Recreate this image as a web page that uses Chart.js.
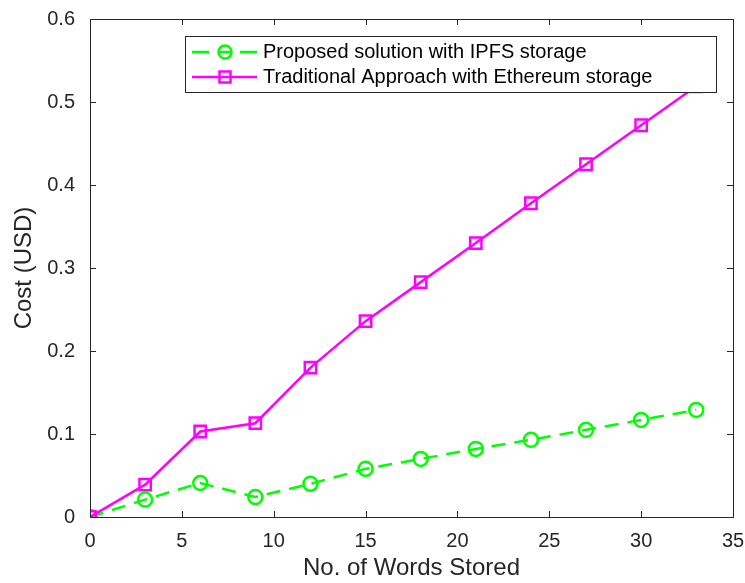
<!DOCTYPE html>
<html>
<head>
<meta charset="utf-8">
<script src="https://cdn.jsdelivr.net/npm/chart.js@4"></script>
<style>
  html, body { margin: 0; padding: 0; background: #fff; }
  #wrap { width: 745px; height: 583px; }
</style>
</head>
<body>
<div id="wrap"><canvas id="costChart"></canvas></div>
<script>
// words stored (x) and cost in USD for both approaches
const wordsStored = [0, 3, 6, 9, 12, 15, 18, 21, 24, 27, 30, 33];
const ipfsCost = [0, 0.021, 0.041, 0.024, 0.040, 0.058, 0.070, 0.082, 0.093, 0.105, 0.117, 0.129];
const ethereumCost = [0, 0.039, 0.103, 0.113, 0.180, 0.236, 0.283, 0.330, 0.378, 0.425, 0.472, 0.519];
const xTicks = [0, 5, 10, 15, 20, 25, 30, 35];
const yTicks = [0, 0.1, 0.2, 0.3, 0.4, 0.5, 0.6];

const seriesLabels = ['Proposed solution with IPFS storage', 'Traditional Approach with Ethereum storage'];
const axisColor = '#262626';
const fontFamily = '"Liberation Sans", Arial, sans-serif';

function toPoints(xs, ys) {
    return xs.map((x, i) => ({ x: x, y: ys[i] }));
}

// matlab-like box: inward ticks on all four sides
const boxPlugin = {
    id: 'matlabBox',
    afterDatasetsDraw(chart) {
        const { ctx, chartArea: a, scales } = chart;
        ctx.save();
        ctx.strokeStyle = axisColor;
        ctx.lineWidth = 1;
        ctx.strokeRect(a.left + 0.5, a.top + 0.5, a.right - a.left, a.bottom - a.top);
        const len = 6;
        ctx.beginPath();
        xTicks.forEach(t => {
            const px = Math.round(scales.x.getPixelForValue(t)) + 0.5;
            ctx.moveTo(px, a.bottom); ctx.lineTo(px, a.bottom - len);
            ctx.moveTo(px, a.top); ctx.lineTo(px, a.top + len);
        });
        yTicks.forEach(t => {
            const py = Math.round(scales.y.getPixelForValue(t)) + 0.5;
            ctx.moveTo(a.left, py); ctx.lineTo(a.left + len, py);
            ctx.moveTo(a.right, py); ctx.lineTo(a.right - len, py);
        });
        ctx.stroke();
        ctx.restore();
    },
    afterDraw(chart) {
        // legend box inside the axes, drawn over the data like matlab does
        const ctx = chart.ctx;
        const bx = 185, by = 36, bw = 531, bh = 56;
        ctx.save();
        ctx.fillStyle = '#fff';
        ctx.fillRect(bx, by, bw, bh);
        ctx.strokeStyle = axisColor;
        ctx.lineWidth = 1;
        ctx.strokeRect(bx + 0.5, by + 0.5, bw, bh);

        const rows = [by + 16, by + 41];
        const x0 = 192, x1 = 257, mx = 225;
        // row 1: green dashed with circle
        ctx.strokeStyle = '#00ff00';
        ctx.lineWidth = 2.5;
        ctx.beginPath();
        ctx.moveTo(x0, rows[0]); ctx.lineTo(x0 + 17, rows[0]);
        ctx.moveTo(x1 - 17, rows[0]); ctx.lineTo(x1, rows[0]);
        ctx.stroke();
        ctx.beginPath();
        ctx.arc(mx, rows[0], 6.5, 0, Math.PI * 2);
        ctx.stroke();
        ctx.beginPath();
        ctx.moveTo(mx - 6, rows[0]); ctx.lineTo(mx + 6, rows[0]);
        ctx.stroke();
        // row 2: magenta solid with square
        ctx.strokeStyle = '#ff00ff';
        ctx.lineWidth = 2.5;
        ctx.beginPath();
        ctx.moveTo(x0, rows[1]); ctx.lineTo(x1, rows[1]);
        ctx.stroke();
        ctx.strokeRect(mx - 5.5, rows[1] - 5.5, 11, 11);

        ctx.fillStyle = '#000';
        ctx.font = '20px ' + fontFamily;
        ctx.textBaseline = 'middle';
        ctx.textAlign = 'left';
        ctx.fillText(seriesLabels[0], 263, rows[0]);
        ctx.fillText(seriesLabels[1], 263, rows[1]);
        ctx.restore();
    }
};

const ctx = document.getElementById('costChart').getContext('2d');
const costChart = new Chart(ctx, {
    type: 'line',
    data: {
        datasets: [{
            label: seriesLabels[0],
            data: toPoints(wordsStored, ipfsCost),
            borderColor: '#00ff00',
            backgroundColor: 'rgba(0,0,0,0)',
            borderWidth: 2.5,
            borderDash: [14, 9],
            pointStyle: 'circle',
            pointRadius: 7,
            pointBorderWidth: 2.5,
            pointBorderColor: '#00ff00',
            pointBackgroundColor: 'rgba(0,0,0,0)',
            tension: 0,
            order: 1
        }, {
            label: seriesLabels[1],
            data: toPoints(wordsStored, ethereumCost),
            borderColor: '#ff00ff',
            backgroundColor: 'rgba(0,0,0,0)',
            borderWidth: 2.5,
            pointStyle: 'rect',
            pointRadius: 8,
            pointBorderWidth: 2.5,
            pointBorderColor: '#ff00ff',
            pointBackgroundColor: 'rgba(0,0,0,0)',
            tension: 0,
            order: 0
        }]
    },
    options: {
        responsive: true,
        maintainAspectRatio: false,
        animation: false,
        layout: { padding: { top: 19, right: 12, left: 0, bottom: 0 } },
        plugins: {
            legend: { display: false },
            tooltip: { enabled: false }
        },
        scales: {
            x: {
                type: 'linear',
                min: 0,
                max: 35,
                afterBuildTicks: axis => { axis.ticks = xTicks.map(v => ({ value: v })); },
                afterFit: axis => {
                    axis.height = 66;
                    // don't let the "35" label push the plot area in
                    axis.paddingLeft = 0;
                    axis.paddingRight = 0;
                },
                grid: { display: false, drawTicks: false },
                border: { display: false },
                ticks: {
                    color: axisColor,
                    font: { family: fontFamily, size: 20 },
                    padding: 12,
                    maxRotation: 0
                },
                title: {
                    display: true,
                    text: 'No. of Words Stored',
                    color: axisColor,
                    font: { family: fontFamily, size: 24 },
                    padding: { top: 0, bottom: 0 }
                }
            },
            y: {
                type: 'linear',
                min: 0,
                max: 0.6,
                afterBuildTicks: axis => { axis.ticks = yTicks.map(v => ({ value: v })); },
                afterFit: axis => {
                    axis.width = 90;
                    axis.paddingTop = 0;
                    axis.paddingBottom = 0;
                },
                grid: { display: false, drawTicks: false },
                border: { display: false },
                ticks: {
                    color: axisColor,
                    font: { family: fontFamily, size: 20 },
                    padding: 15,
                    callback: v => String(+v.toFixed(1))
                },
                title: {
                    display: true,
                    text: 'Cost (USD)',
                    color: axisColor,
                    font: { family: fontFamily, size: 24 },
                    padding: { top: 10, bottom: 0 }
                }
            }
        }
    },
    plugins: [boxPlugin]
});
</script>
</body>
</html>
